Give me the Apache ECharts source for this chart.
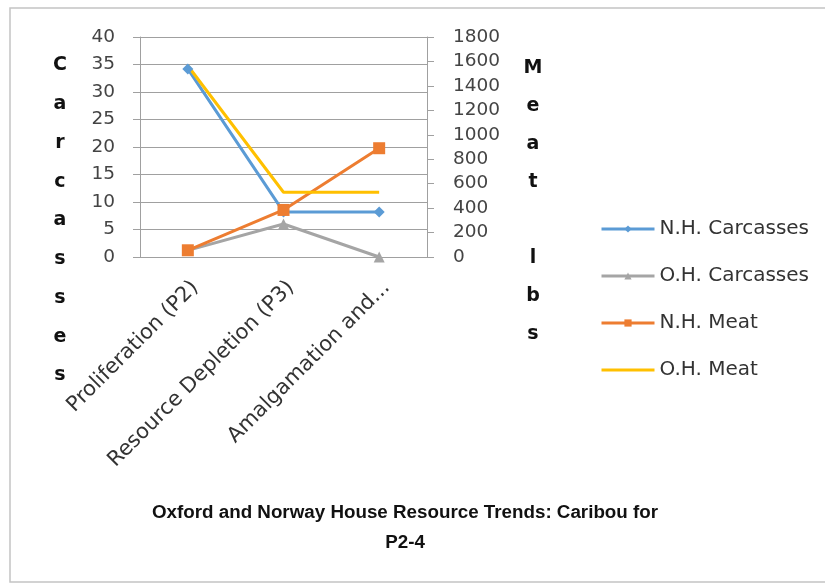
<!DOCTYPE html>
<html>
<head>
    <meta charset="utf-8">
    <title>Caribou P2-4</title>
    <script src="https://cdn.jsdelivr.net/npm/echarts@6/dist/echarts.min.js"></script>
    <style>
        html, body { margin: 0; padding: 0; background: #fff; }
        #chart1 { width: 825px; height: 584px; }
    </style>
</head>
<body>
<div id="chart1"></div>
<script type="text/javascript">
    // data
    var periods = ['Proliferation (P2)', 'Resource Depletion (P3)', 'Amalgamation and...'];
    var nhCarcasses = [34.2, 8.2, 8.2];
    var ohCarcasses = [1.2, 6, 0];
    var nhMeat = [55, 385, 890];
    var ohMeat = [1565, 530, 530];
    var leftTicks = [0, 40, 5];       // min, max, step
    var rightTicks = [0, 1800, 200];

    var leftTitle = 'Carcasses';
    var rightTitle = 'Meat lbs';

    var font = 'DejaVu Sans';
    var gridColor = '#a0a0a0';

    var myChart1 = echarts.init(document.getElementById('chart1'));

    myChart1.setOption({
        backgroundColor: '#fff',
        animation: false,
        title: {
            text: 'Oxford and Norway House Resource Trends: Caribou for\nP2-4',
            left: 400,
            top: 493,
            textAlign: 'center',
            textStyle: {
                fontFamily: 'Liberation Sans',
                fontWeight: 'bold',
                fontSize: 18.8,
                lineHeight: 30,
                color: '#111'
            }
        },
        legend: {
            orient: 'vertical',
            left: 595,
            top: 214,
            itemWidth: 53,
            itemHeight: 9,
            itemGap: 27,
            lineStyle: { width: 3 },
            textStyle: { fontFamily: font, fontSize: 20, color: '#333' },
            data: [
                'N.H. Carcasses',
                'O.H. Carcasses',
                'N.H. Meat',
                // no marker on this series, keep only the line in the key
                {
                    name: 'O.H. Meat',
                    itemStyle: { color: 'rgba(0,0,0,0)', borderColor: 'rgba(0,0,0,0)', borderWidth: 0 }
                }
            ]
        },
        graphic: [
            {
                type: 'rect',
                shape: { x: 10, y: 8, width: 840, height: 574 },
                style: { fill: 'none', stroke: '#c4c4c4', lineWidth: 1.5 },
                silent: true
            },
            {
                type: 'text',
                x: 60, y: 46,
                style: {
                    text: leftTitle.split('').join('\n'),
                    font: 'bold 19px "DejaVu Sans"',
                    lineHeight: 38.75,
                    align: 'center',
                    verticalAlign: 'top',
                    fill: '#111'
                }
            },
            {
                type: 'text',
                x: 533, y: 49,
                style: {
                    text: rightTitle.split('').join('\n'),
                    font: 'bold 19px "DejaVu Sans"',
                    lineHeight: 38,
                    align: 'center',
                    verticalAlign: 'top',
                    fill: '#111'
                }
            }
        ],
        grid: { left: 140, right: 398, top: 37, bottom: 327 },
        xAxis: {
            type: 'category',
            data: periods,
            boundaryGap: true,
            axisLine: { lineStyle: { color: gridColor } },
            axisTick: { length: 8, lineStyle: { color: gridColor } },
            axisLabel: {
                rotate: 45,
                margin: 20,
                verticalAlign: 'top',
                fontFamily: font,
                fontSize: 21,
                color: '#333'
            }
        },
        yAxis: [
            {
                type: 'value',
                min: leftTicks[0],
                max: leftTicks[1],
                interval: leftTicks[2],
                axisLine: { show: true, lineStyle: { color: gridColor } },
                axisTick: { show: true, length: 7, lineStyle: { color: gridColor } },
                splitLine: { lineStyle: { color: gridColor } },
                axisLabel: { margin: 25, fontFamily: font, fontSize: 18.5, color: '#444' }
            },
            {
                type: 'value',
                position: 'right',
                min: rightTicks[0],
                max: rightTicks[1],
                interval: rightTicks[2],
                axisLine: { show: true, lineStyle: { color: gridColor } },
                axisTick: { show: true, length: 7, lineStyle: { color: gridColor } },
                splitLine: { show: false },
                axisLabel: {
                    margin: 26,
                    fontFamily: font,
                    fontSize: 18.5,
                    color: '#444',
                    formatter: function (v) { return String(v); }
                }
            }
        ],
        series: [
            {
                name: 'N.H. Carcasses',
                type: 'line',
                yAxisIndex: 0,
                data: nhCarcasses,
                symbol: 'diamond',
                symbolSize: 11,
                itemStyle: { color: '#5B9BD5' },
                lineStyle: { width: 3, color: '#5B9BD5' }
            },
            {
                name: 'O.H. Carcasses',
                type: 'line',
                yAxisIndex: 0,
                data: ohCarcasses,
                symbol: 'triangle',
                symbolSize: 11,
                itemStyle: { color: '#A5A5A5' },
                lineStyle: { width: 3, color: '#A5A5A5' }
            },
            {
                name: 'N.H. Meat',
                type: 'line',
                yAxisIndex: 1,
                data: nhMeat,
                symbol: 'rect',
                symbolSize: 12,
                itemStyle: { color: '#ED7D31' },
                lineStyle: { width: 3, color: '#ED7D31' }
            },
            {
                name: 'O.H. Meat',
                type: 'line',
                yAxisIndex: 1,
                data: ohMeat,
                symbol: 'none',
                itemStyle: { color: '#FFC000' },
                lineStyle: { width: 3, color: '#FFC000' }
            }
        ]
    });
</script>
</body>
</html>
